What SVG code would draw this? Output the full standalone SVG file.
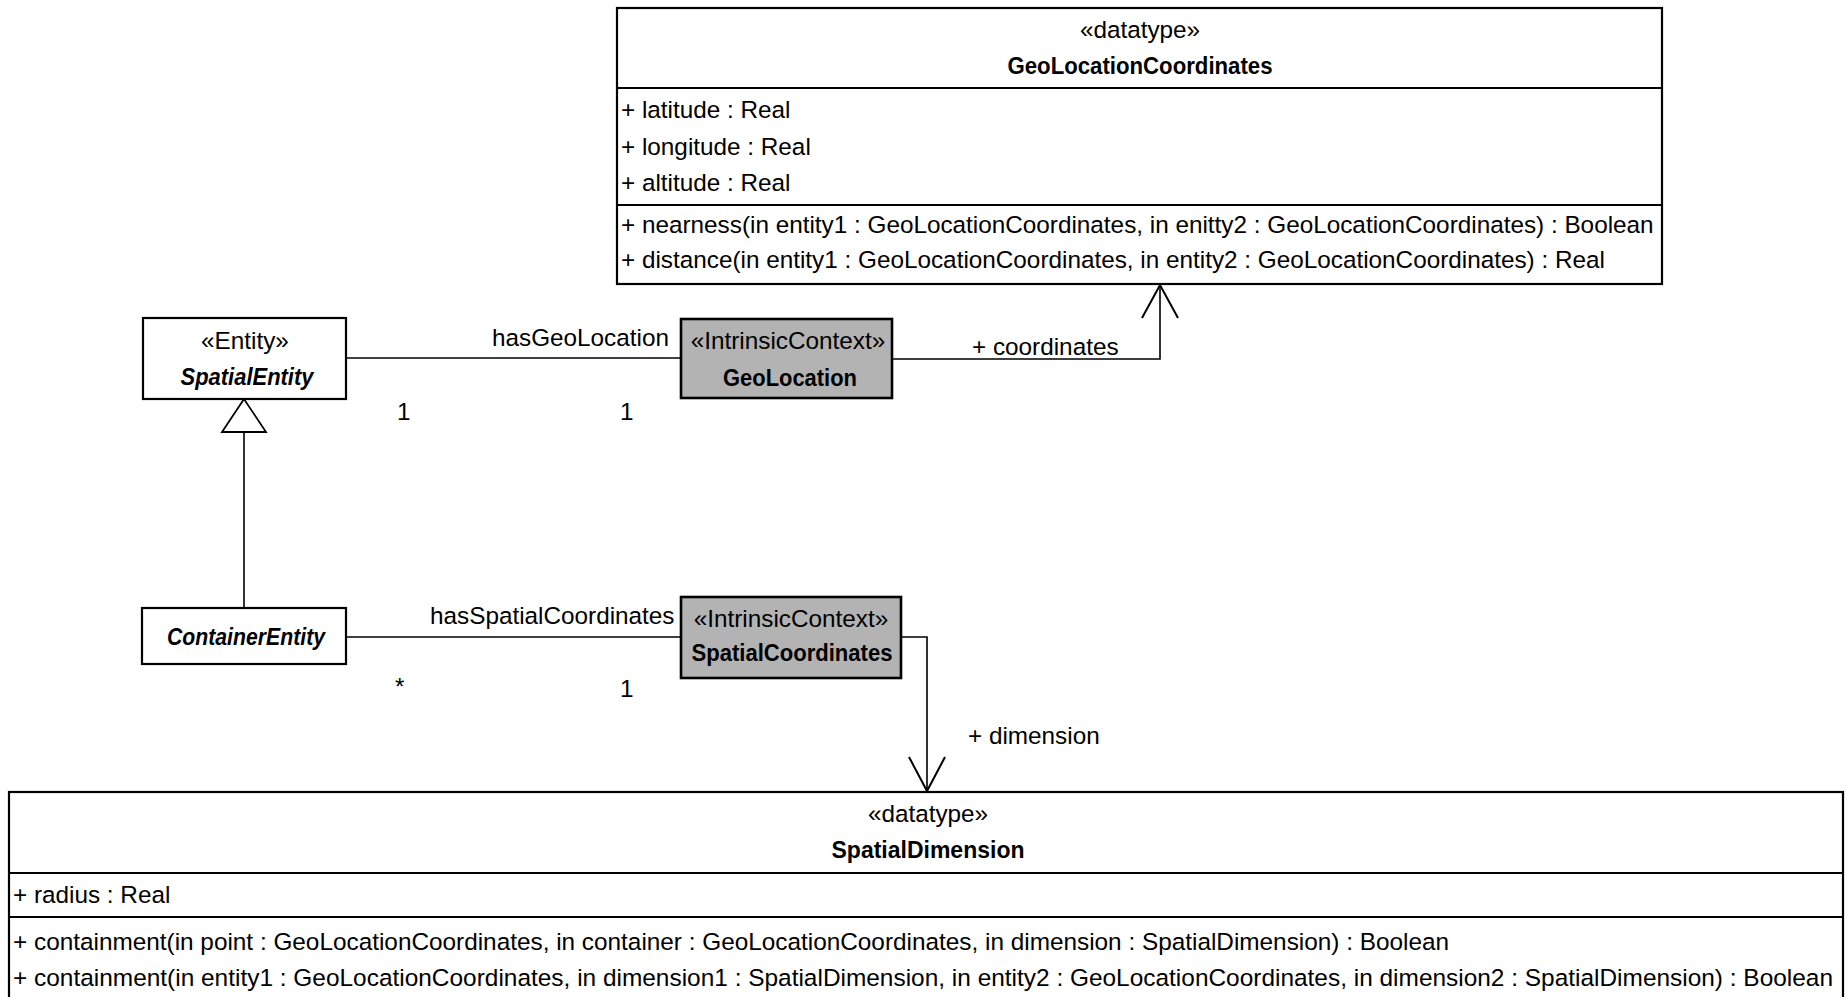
<svg xmlns="http://www.w3.org/2000/svg" width="1847" height="997" viewBox="0 0 1847 997">
  <style>
    text { font-family: "Liberation Sans", Arial, sans-serif; font-size: 24.3px; fill: #000; }
    .c { text-anchor: middle; }
    .b { font-weight: bold; }
    .bi { font-weight: bold; font-style: italic; }
    .box { fill: #fff; stroke: #000; stroke-width: 2.2; }
    .ctx { fill: #b3b3b3; stroke: #000; stroke-width: 2.6; }
    .sep { stroke: #000; stroke-width: 2.2; }
    .edge { fill: none; stroke: #000; stroke-width: 1.6; }
    .head { fill: none; stroke: #000; stroke-width: 2; }
    .tri { fill: #fff; stroke: #000; stroke-width: 1.8; }
  </style>

  <!-- connectors -->
  <g id="connectors">
    <!-- SpatialEntity - GeoLocation -->
    <line class="edge" x1="346" y1="358" x2="681" y2="358"/>
    <text x="492" y="346">hasGeoLocation</text>
    <text x="397" y="420">1</text>
    <text x="620" y="420">1</text>

    <!-- GeoLocation -> GeoLocationCoordinates -->
    <polyline class="edge" points="892,359 1160,359 1160,285"/>
    <polyline class="head" points="1142,318 1160,285 1178,318"/>
    <text x="972" y="355">+ coordinates</text>

    <!-- ContainerEntity generalizes to SpatialEntity -->
    <line class="edge" x1="244" y1="432" x2="244" y2="608"/>
    <polygon class="tri" points="244,399 222,432 266,432"/>

    <!-- ContainerEntity - SpatialCoordinates -->
    <line class="edge" x1="346" y1="637" x2="681" y2="637"/>
    <text x="430" y="624">hasSpatialCoordinates</text>
    <text x="395" y="695">*</text>
    <text x="620" y="697">1</text>

    <!-- SpatialCoordinates -> SpatialDimension -->
    <polyline class="edge" points="901,637 927,637 927,791"/>
    <polyline class="head" points="909,757 927,791 945,757"/>
    <text x="968" y="744">+ dimension</text>
  </g>

  <!-- GeoLocationCoordinates datatype -->
  <g id="GeoLocationCoordinates">
    <rect class="box" x="617" y="8" width="1045" height="276"/>
    <line class="sep" x1="617" y1="88" x2="1662" y2="88"/>
    <line class="sep" x1="617" y1="205" x2="1662" y2="205"/>
    <text class="c" x="1140" y="38">«datatype»</text>
    <text class="c b" x="1140" y="74" textLength="265" lengthAdjust="spacingAndGlyphs">GeoLocationCoordinates</text>
    <text x="621" y="118">+ latitude : Real</text>
    <text x="621" y="155">+ longitude : Real</text>
    <text x="621" y="191">+ altitude : Real</text>
    <text x="621" y="233">+ nearness(in entity1 : GeoLocationCoordinates, in enitty2 : GeoLocationCoordinates) : Boolean</text>
    <text x="621" y="268">+ distance(in entity1 : GeoLocationCoordinates, in entity2 : GeoLocationCoordinates) : Real</text>
  </g>

  <!-- SpatialEntity -->
  <g id="SpatialEntity">
    <rect class="box" x="143" y="318" width="203" height="81"/>
    <text class="c" x="245" y="349">«Entity»</text>
    <text class="c bi" x="247" y="385" textLength="133" lengthAdjust="spacingAndGlyphs">SpatialEntity</text>
  </g>

  <!-- GeoLocation intrinsic context -->
  <g id="GeoLocation">
    <rect class="ctx" x="681" y="319" width="211" height="79"/>
    <text class="c" x="788" y="349">«IntrinsicContext»</text>
    <text class="c b" x="790" y="386" textLength="134" lengthAdjust="spacingAndGlyphs">GeoLocation</text>
  </g>

  <!-- ContainerEntity -->
  <g id="ContainerEntity">
    <rect class="box" x="142" y="608" width="204" height="56"/>
    <text class="c bi" x="246" y="645" textLength="158" lengthAdjust="spacingAndGlyphs">ContainerEntity</text>
  </g>

  <!-- SpatialCoordinates intrinsic context -->
  <g id="SpatialCoordinates">
    <rect class="ctx" x="681" y="597" width="220" height="81"/>
    <text class="c" x="791" y="627">«IntrinsicContext»</text>
    <text class="c b" x="792" y="661" textLength="201" lengthAdjust="spacingAndGlyphs">SpatialCoordinates</text>
  </g>

  <!-- SpatialDimension datatype -->
  <g id="SpatialDimension">
    <rect class="box" x="9" y="792" width="1834" height="220"/>
    <line class="sep" x1="9" y1="873" x2="1843" y2="873"/>
    <line class="sep" x1="9" y1="917" x2="1843" y2="917"/>
    <text class="c" x="928" y="822">«datatype»</text>
    <text class="c b" x="928" y="858" textLength="193" lengthAdjust="spacingAndGlyphs">SpatialDimension</text>
    <text x="13" y="903">+ radius : Real</text>
    <text x="13" y="950" textLength="1436" lengthAdjust="spacingAndGlyphs">+ containment(in point : GeoLocationCoordinates, in container : GeoLocationCoordinates, in dimension : SpatialDimension) : Boolean</text>
    <text x="13" y="986" textLength="1820" lengthAdjust="spacingAndGlyphs">+ containment(in entity1 : GeoLocationCoordinates, in dimension1 : SpatialDimension, in entity2 : GeoLocationCoordinates, in dimension2 : SpatialDimension) : Boolean</text>
  </g>
</svg>
